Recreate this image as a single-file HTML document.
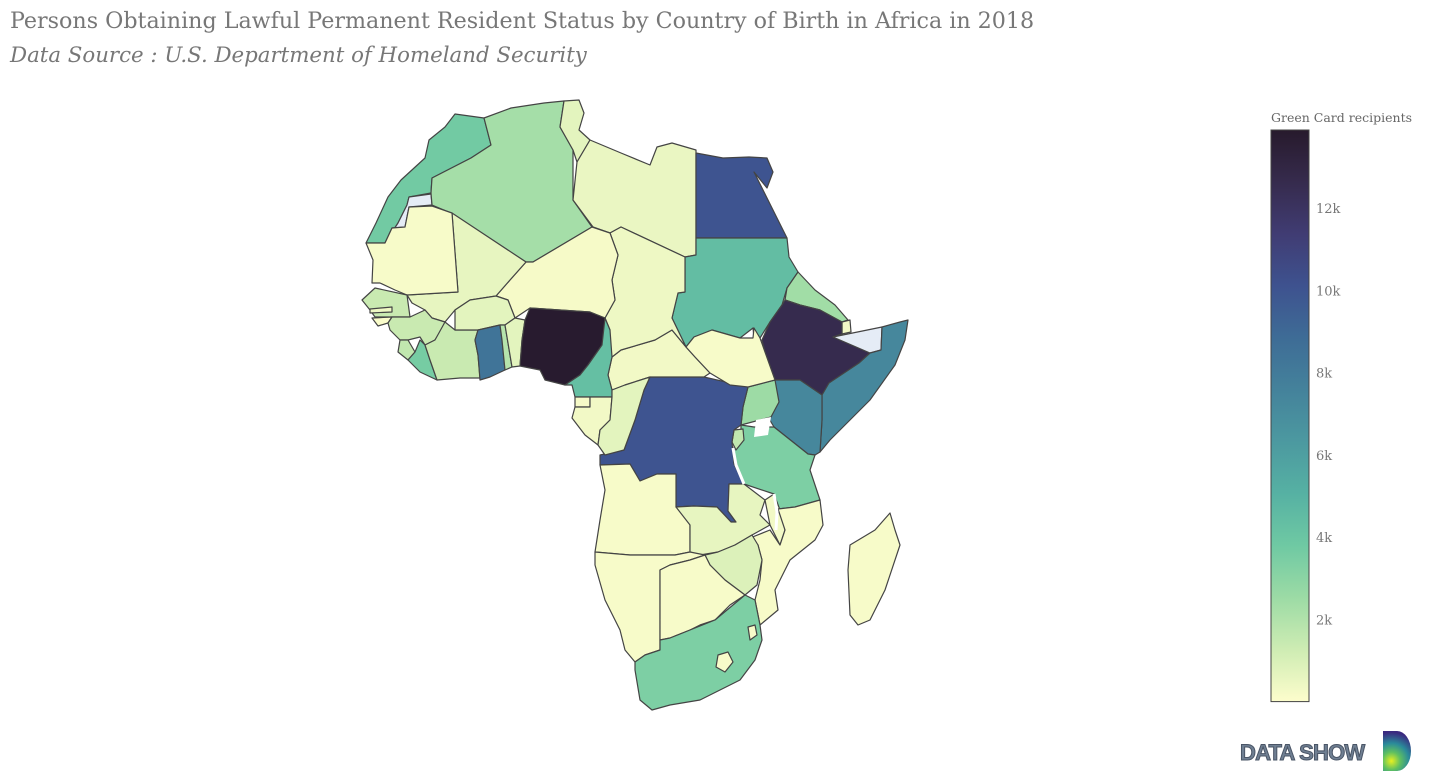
<!DOCTYPE html>
<html><head><meta charset="utf-8">
<style>
html,body{margin:0;padding:0;background:#fff;width:1435px;height:782px;overflow:hidden}
.t{position:absolute;left:10px;font-family:"DejaVu Serif","Liberation Serif",serif;color:#777;white-space:nowrap}
</style></head>
<body>
<div class="t" style="top:8px;font-size:22.2px">Persons Obtaining Lawful Permanent Resident Status by Country of Birth in Africa in 2018</div>
<div class="t" style="top:43px;font-size:21.3px;font-style:italic">Data Source : U.S. Department of Homeland Security</div>
<svg id="map" width="1435" height="782" style="position:absolute;left:0;top:0"></svg>
<div style="position:absolute;left:1240px;top:740px;font-family:'Liberation Sans',sans-serif;font-weight:bold;font-size:22px;color:#6f7f92;-webkit-text-stroke:1px #4a5566;letter-spacing:-0.8px">DATA SHOW</div>
<div style="position:absolute;left:1383px;top:731px;width:28px;height:40px;border-radius:0 50% 50% 0;background:radial-gradient(circle at 30% 75%,#e8f020 0,#5fc060 25%,#2a8a9a 50%,#3a2a80 80%)"></div>
<script>
const countries=["Morocco","WesternSahara","Algeria","Tunisia","Libya","Egypt","Sudan","Eritrea","Djibouti","Ethiopia","Somaliland","Somalia","Kenya","Uganda","Tanzania","Rwanda","DRC","CAR","SouthSudan","Chad","Niger","Mali","Mauritania","Senegal","Gambia","GuineaBissau","Guinea","SierraLeone","Liberia","CoteDIvoire","BurkinaFaso","Ghana","Togo","Benin","Nigeria","Cameroon","EqGuinea","Gabon","Congo","Angola","Zambia","Malawi","Mozambique","Zimbabwe","Namibia","Botswana","SouthAfrica","Lesotho","Eswatini","Madagascar"];
const values=[3700,null,2300,700,500,10000,4400,2400,300,12600,null,7300,7300,2500,3400,1600,10000,300,150,400,200,600,150,1400,400,100,1400,1600,3600,1400,700,8400,1900,700,13800,4300,200,300,700,150,600,300,150,900,150,150,3400,150,150,150];
const cmin=0,cmax=13900;
const ticks=[2000,4000,6000,8000,10000,12000];
const tickLabels=["2k","4k","6k","8k","10k","12k"];
const geo={
Morocco:"455,114 484,118 491,145 471,158 432,178 431,193 409,197 407,205 398,223 385,243 366,243 376,223 388,197 401,180 425,158 429,140 445,127",
WesternSahara:"409,197 431,194 432,205 409,207 405,227 392,228 385,243 398,223 407,205",
Algeria:"484,118 511,108 544,103 564,101 560,127 573,150 573,200 592,227 533,262 526,262 451,213 432,205 431,193 432,178 471,158 491,145",
Tunisia:"564,101 579,100 584,113 579,130 590,140 577,162 573,150 560,127",
Libya:"577,162 590,140 621,153 650,165 657,147 672,143 696,150 696,255 685,257 621,227 610,233 593,227 573,200",
Egypt:"696,153 723,158 749,157 767,158 773,172 767,188 754,172 778,220 787,238 696,238",
Sudan:"696,238 787,238 789,257 798,272 787,288 782,305 770,322 760,338 754,338 753,328 740,338 712,330 694,337 686,347 672,318 678,293 685,292 685,257 696,255",
Eritrea:"798,272 815,290 835,305 848,320 842,322 820,310 800,305 785,300 787,288",
Djibouti:"842,322 850,320 851,332 842,334",
Ethiopia:"785,300 800,305 820,310 842,322 842,334 833,337 870,353 859,363 829,383 822,395 800,380 775,380 765,352 762,340 770,322 782,305",
Somaliland:"833,337 882,327 881,350 870,353",
Somalia:"882,327 900,322 908,320 905,340 895,365 870,400 845,425 830,440 820,452 822,420 822,395 829,383 859,363 870,353 881,350",
Kenya:"775,380 800,380 822,395 822,420 820,452 815,455 808,454 774,427 768,417 773,400",
Uganda:"748,387 775,380 779,402 771,417 741,425 743,407",
Tanzania:"741,425 754,427 774,427 808,454 815,455 810,470 820,500 795,507 778,509 774,494 744,484 736,470 734,447 741,437",
Rwanda:"734,430 743,429 744,440 736,450 732,442",
DRC:"650,377 704,377 748,387 743,407 741,425 734,430 732,442 734,464 744,484 729,484 728,511 736,522 731,522 717,507 694,506 676,507 676,474 657,474 640,481 630,464 600,465 600,455 624,450 635,420 644,390",
CAR:"612,357 621,350 655,340 672,330 686,347 695,357 710,373 704,377 650,377 625,385 612,390 608,375",
SouthSudan:"686,347 694,337 712,330 740,338 753,338 754,328 760,338 765,352 775,380 748,387 730,385 710,373 695,357",
Chad:"610,233 621,227 685,257 685,292 678,293 672,318 686,347 672,330 655,340 621,350 612,357 608,340 605,318 615,300 612,280 618,255",
Niger:"526,262 533,262 592,227 610,233 618,255 612,280 615,300 605,318 590,312 560,310 530,308 515,318 508,300 496,296 510,280",
Mali:"452,213 526,262 510,280 496,296 470,300 455,310 445,322 432,318 425,310 412,303 407,295 458,292",
Mauritania:"366,243 385,243 392,228 405,227 409,207 432,206 452,213 458,292 407,295 395,290 380,283 372,283 373,260",
Senegal:"362,300 375,288 407,295 410,317 392,317 375,317 370,310",
Gambia:"370,309 392,307 392,312 370,313",
GuineaBissau:"372,318 392,317 388,323 378,326",
Guinea:"392,317 410,317 425,310 432,318 445,322 440,332 435,340 425,345 420,337 408,340 400,340 390,330 388,323",
SierraLeone:"400,340 408,340 415,352 408,360 398,352",
Liberia:"408,360 415,352 420,340 425,345 430,360 437,380 420,372",
CoteDIvoire:"425,345 435,340 445,322 455,330 470,330 478,330 475,340 478,355 480,378 460,378 437,380 430,360",
BurkinaFaso:"455,310 470,300 496,296 508,300 515,318 505,325 500,325 478,330 455,330",
Ghana:"478,330 500,325 502,340 505,370 490,377 480,380 478,355 475,340",
Togo:"500,325 505,325 512,367 505,370 502,340",
Benin:"505,325 515,318 525,320 522,340 520,366 512,367",
Nigeria:"525,320 530,308 560,310 590,312 605,318 610,330 602,345 595,355 588,365 580,375 565,385 545,380 540,370 520,366 522,340",
Cameroon:"605,318 610,330 612,357 608,375 612,390 612,397 590,397 575,397 572,385 565,385 580,375 588,365 595,355 602,345",
EqGuinea:"575,397 590,397 590,407 575,407",
Gabon:"575,407 590,407 590,397 612,397 610,420 600,430 598,445 585,435 572,418",
Congo:"612,390 625,385 650,377 644,390 635,420 624,450 605,455 598,445 600,430 610,420 612,397",
Angola:"600,465 630,464 640,481 657,474 676,474 676,507 694,506 690,525 690,552 675,555 630,555 595,552 600,520 605,490",
Zambia:"676,507 694,506 717,507 731,522 736,522 728,511 729,484 744,484 765,500 760,515 770,525 752,535 735,545 718,552 700,555 690,552 690,525",
Malawi:"774,494 780,510 785,530 780,545 770,525 765,500",
Mozambique:"778,509 795,507 820,500 823,525 815,540 790,560 775,590 778,610 760,625 755,600 760,580 762,560 758,545 750,538 770,530 780,545 785,530",
Zimbabwe:"705,555 718,552 735,545 752,535 758,545 762,560 757,585 745,595 725,580 710,565",
Namibia:"595,552 630,555 675,555 690,552 705,555 690,560 670,565 660,570 660,595 660,650 645,655 635,662 625,650 620,630 605,600 595,565",
Botswana:"660,570 670,565 690,560 705,555 710,565 725,580 745,595 730,605 715,620 700,625 690,630 670,638 660,640 660,595",
SouthAfrica:"660,640 670,638 690,630 715,620 745,595 755,600 760,625 762,640 755,660 740,680 700,700 670,705 652,710 640,700 635,670 635,662 645,655 660,650",
Lesotho:"718,655 728,652 733,662 725,672 716,667",
Eswatini:"748,627 755,625 757,635 750,640",
Madagascar:"850,545 875,530 890,513 895,530 900,545 885,590 870,620 858,625 850,615 848,570"
};
const stops=[[253,253,204],[206,236,179],[156,219,165],[111,201,163],[86,177,163],[76,153,160],[68,130,155],[62,108,150],[62,82,143],[64,60,115],[54,43,77],[39,26,44]];
function color(v){
  if(v===null)return "rgb(229,236,246)";
  let t=Math.max(0,Math.min(1,(v-cmin)/(cmax-cmin)))*(stops.length-1);
  let i=Math.min(stops.length-2,Math.floor(t)),f=t-i;
  const c=stops[i].map((a,k)=>Math.round(a+(stops[i+1][k]-a)*f));
  return "rgb("+c.join(",")+")";
}
const NS="http://www.w3.org/2000/svg";
const svg=document.getElementById("map");
countries.forEach((c,i)=>{
  const p=document.createElementNS(NS,"polygon");
  p.setAttribute("points",geo[c]);
  p.setAttribute("fill",color(values[i]));
  p.setAttribute("stroke","#444");
  p.setAttribute("stroke-width","1.2");
  p.setAttribute("stroke-linejoin","round");
  
  
  svg.appendChild(p);
});
[["756,420 771,417 768,435 754,437","lake-victoria"]].forEach(l=>{
  const p=document.createElementNS(NS,"polygon");
  p.setAttribute("points",l[0]);p.setAttribute("fill","#fff");
  
  
  svg.appendChild(p);
});
[["733,448 736,465 744,484","lake-tanganyika"],["774,494 777,512 776,530","lake-malawi"]].forEach(l=>{
  const p=document.createElementNS(NS,"polyline");
  p.setAttribute("points",l[0]);p.setAttribute("fill","none");p.setAttribute("stroke","#fff");p.setAttribute("stroke-width","3");
  
  
  svg.appendChild(p);
});
const bx=1271,bw=38,by0=701.6,pxPer=(701.6-130)/cmax;
const defs=document.createElementNS(NS,"defs");
const g=document.createElementNS(NS,"linearGradient");
g.setAttribute("id","cg");g.setAttribute("x1","0");g.setAttribute("y1","1");g.setAttribute("x2","0");g.setAttribute("y2","0");
stops.forEach((s,i)=>{const st=document.createElementNS(NS,"stop");st.setAttribute("offset",i/(stops.length-1));st.setAttribute("stop-color","rgb("+s.join(",")+")");g.appendChild(st);});
defs.appendChild(g);svg.appendChild(defs);
const bar=document.createElementNS(NS,"rect");
bar.setAttribute("x",bx);bar.setAttribute("y",by0-cmax*pxPer);bar.setAttribute("width",bw);bar.setAttribute("height",cmax*pxPer);
bar.setAttribute("fill","url(#cg)");bar.setAttribute("stroke","#444");bar.setAttribute("stroke-width","1");


svg.appendChild(bar);
ticks.forEach((t,i)=>{
  const tx=document.createElementNS(NS,"text");
  tx.setAttribute("x",bx+bw+7);tx.setAttribute("y",by0-t*pxPer+5);
  tx.setAttribute("font-family","DejaVu Serif, Liberation Serif, serif");tx.setAttribute("font-size","13");tx.setAttribute("fill","#777");
  tx.textContent=tickLabels[i];
  
  
  svg.appendChild(tx);
});
const ct=document.createElementNS(NS,"text");
ct.setAttribute("x",bx);ct.setAttribute("y",122);
ct.setAttribute("font-family","DejaVu Serif, Liberation Serif, serif");ct.setAttribute("font-size","12.5");ct.setAttribute("fill","#666");
ct.textContent="Green Card recipients";


svg.appendChild(ct);
</script>
</body></html>
